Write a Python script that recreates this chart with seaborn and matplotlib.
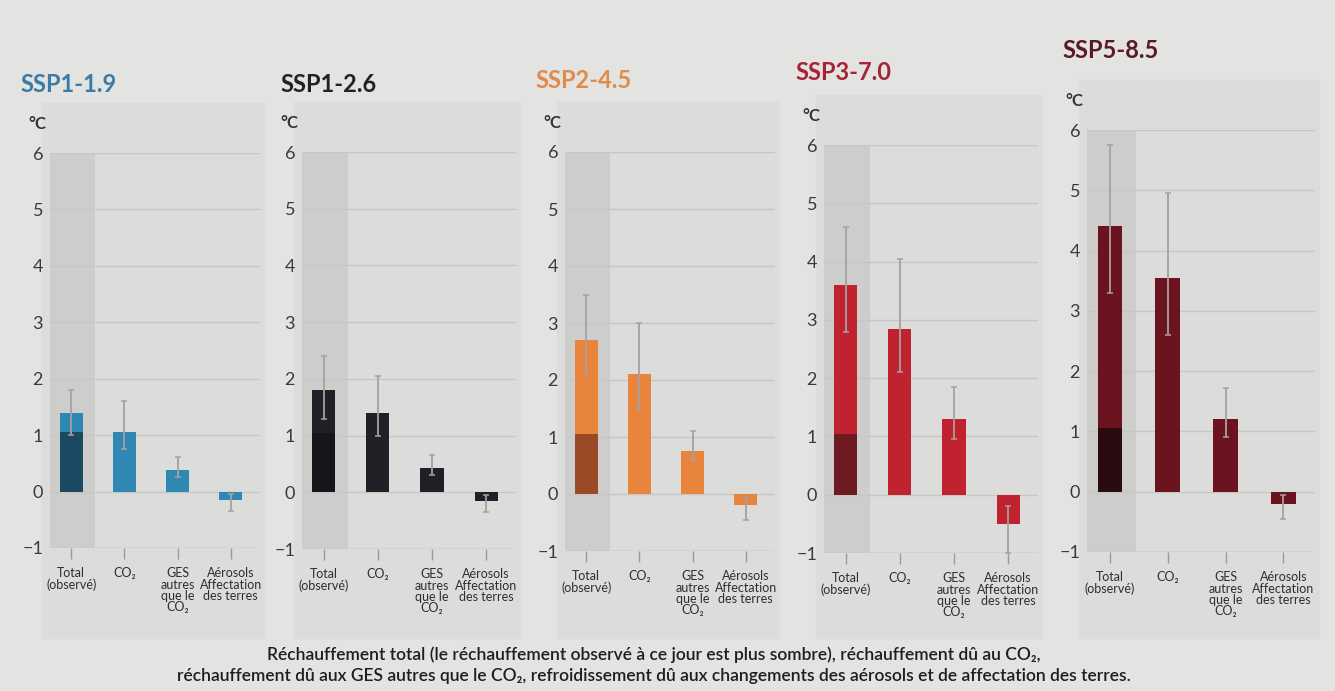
import matplotlib
matplotlib.use("Agg")
import matplotlib.pyplot as plt
from matplotlib.patches import Rectangle
import seaborn as sns

# categories (x axis) and scenarios
categories = ["Total\n(observé)", "CO₂", "GES\nautres\nque le\nCO₂", "Aérosols\nAffectation\ndes terres"]
scenarios = ["SSP1-1.9", "SSP1-2.6", "SSP2-4.5", "SSP3-7.0", "SSP5-8.5"]

# warming values (°C), order = categories
ssp119_val = [1.40, 1.05, 0.38, -0.15]
ssp119_lo = [1.00, 0.75, 0.25, -0.35]
ssp119_hi = [1.80, 1.60, 0.62, -0.05]

ssp126_val = [1.80, 1.40, 0.42, -0.15]
ssp126_lo = [1.30, 1.00, 0.30, -0.35]
ssp126_hi = [2.40, 2.05, 0.65, -0.05]

ssp245_val = [2.70, 2.10, 0.75, -0.20]
ssp245_lo = [2.10, 1.50, 0.60, -0.45]
ssp245_hi = [3.50, 3.00, 1.10, -0.05]

ssp370_val = [3.60, 2.85, 1.30, -0.50]
ssp370_lo = [2.80, 2.10, 0.95, -1.00]
ssp370_hi = [4.60, 4.05, 1.85, -0.20]

ssp585_val = [4.40, 3.55, 1.20, -0.20]
ssp585_lo = [3.30, 2.60, 0.90, -0.45]
ssp585_hi = [5.75, 4.95, 1.72, -0.05]

# observed warming to date (darker part of the total bar)
observed = [1.05, 1.05, 1.05, 1.05, 1.05]

values = [ssp119_val, ssp126_val, ssp245_val, ssp370_val, ssp585_val]
lows = [ssp119_lo, ssp126_lo, ssp245_lo, ssp370_lo, ssp585_lo]
highs = [ssp119_hi, ssp126_hi, ssp245_hi, ssp370_hi, ssp585_hi]

title_colors = ["#3a7ca5", "#222226", "#e08a4c", "#a82435", "#5a1a24"]
bar_colors = ["#2f87b3", "#1f2126", "#e8843c", "#c0232f", "#6b1420"]
obs_colors = ["#1b4863", "#15161a", "#9a4a26", "#6e1a22", "#2a0c10"]

caption = ("Réchauffement total (le réchauffement observé à ce jour est plus sombre), réchauffement dû au CO₂,\n"
           "réchauffement dû aux GES autres que le CO₂, refroidissement dû aux changements des aérosols et de affectation des terres.")

sns.set_theme(style="white")
plt.rcParams["font.family"] = ["Lato", "DejaVu Sans"]

W, H = 1335, 691
bg = "#e3e3e1"
fig = plt.figure(figsize=(W / 100, H / 100), dpi=100, facecolor=bg)

# panel frames in pixels: left, right, top (y=6), bottom (y=-1)
frames = [(50, 260, 153, 548), (302, 516, 152, 549), (565, 775, 152, 551),
          (824, 1038, 145, 553), (1087, 1315, 130, 552)]
title_pos = [(20, 85), (280, 85), (535, 80), (795, 72), (1062, 50)]

for i, name in enumerate(scenarios):
    l, r, t, b = frames[i]
    # subtle panel background box
    fig.patches.append(Rectangle(((l - 8) / W, 1 - 638 / H), (r - l + 12) / W, (638 - t + 50) / H,
                                 transform=fig.transFigure, color="#dcdcda", zorder=-5))
    ax = fig.add_axes([l / W, 1 - b / H, (r - l) / W, (b - t) / H])
    ax.set_facecolor("none")

    vals = values[i]
    sns.barplot(x=categories, y=vals, order=categories, color=bar_colors[i],
                saturation=1, width=0.43, linewidth=0, ax=ax, zorder=3)
    sns.barplot(x=[categories[0]], y=[observed[i]], order=categories, color=obs_colors[i],
                saturation=1, width=0.43, linewidth=0, ax=ax, zorder=4)
    err_lo = [v - lo for v, lo in zip(vals, lows[i])]
    err_hi = [hi - v for v, hi in zip(vals, highs[i])]
    ax.errorbar(range(len(categories)), vals, yerr=[err_lo, err_hi], fmt="none",
                ecolor="#a8a0a0", elinewidth=1.3, capsize=2.5, capthick=1.1, zorder=5)

    ax.axvspan(-0.4, 0.45, color="#cdcdcb", zorder=0, lw=0)
    ax.set_xlim(-0.4, 3.55)
    ax.set_ylim(-1, 6)
    ax.set_yticks(range(-1, 7))
    ax.yaxis.grid(True, color="#c6c6c4", lw=1)
    ax.set_axisbelow(True)
    for s in ax.spines.values():
        s.set_visible(False)
    ax.axhline(-1, color="#c6c6c4", lw=1, zorder=1)
    ax.set_xlabel("")
    ax.set_ylabel("")
    ax.tick_params(axis="y", length=0, labelsize=13, labelcolor="#3a3a3a", pad=5)
    ax.tick_params(axis="x", length=8, width=1, color="#9a9a9a", labelsize=9,
                   labelcolor="#2e2e2e", pad=6, bottom=True)
    for lab in ax.get_xticklabels():
        lab.set_linespacing(0.92)

    ax.annotate("°C", xy=(0, 1), xycoords="axes fraction", xytext=(-22, 24),
                textcoords="offset pixels", fontsize=12, color="#333333", fontweight="bold")
    fig.text(title_pos[i][0] / W, 1 - title_pos[i][1] / H, name, fontsize=17,
             fontweight="bold", color=title_colors[i], va="center", ha="left")

fig.text(0.49, 1 - 665 / H, caption, ha="center", va="center", fontsize=12.5,
         color="#1e1e1e", linespacing=1.35, fontweight="semibold")

fig.savefig("out.png", dpi=100, facecolor=bg)
